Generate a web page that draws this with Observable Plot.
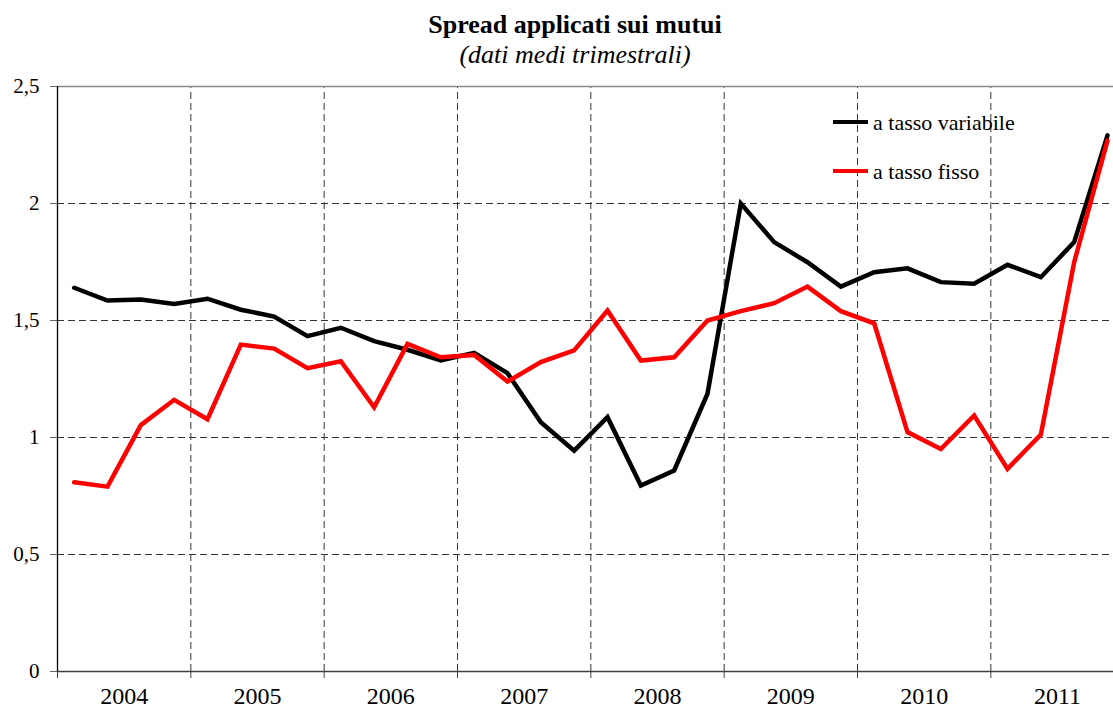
<!DOCTYPE html>
<html>
<head>
<meta charset="utf-8">
<script src="https://cdn.jsdelivr.net/npm/d3@7"></script>
<script src="https://cdn.jsdelivr.net/npm/@observablehq/plot@0.6"></script>
<style>
  body { margin: 0; background: #fff; font-family: "Liberation Serif", "Times New Roman", serif; }
  #wrap { position: relative; width: 1113px; height: 709px; overflow: hidden; }
  #head { position: relative; width: 1113px; height: 76px; }
  .t { position: absolute; left: 0; width: 1150px; text-align: center; line-height: 1; white-space: nowrap; color: #000; }
  #title { top: 12px; font-size: 26px; font-weight: bold; }
  #subtitle { top: 42px; font-size: 26px; font-style: italic; }
  .sw { position: absolute; left: 833px; width: 35px; height: 4px; }
  .lt { position: absolute; left: 873px; font-size: 22px; line-height: 1; white-space: nowrap; color: #000; }
  #chart svg { display: block; }
  #chart svg, #chart svg text { font-family: "Liberation Serif", "Times New Roman", serif !important; }
</style>
</head>
<body>
<div id="wrap">
  <div id="head">
    <div class="t" id="title">Spread applicati sui mutui</div>
    <div class="t" id="subtitle">(dati medi trimestrali)</div>
  </div>
  <div id="chart"></div>
  <div id="legend"></div>
</div>
<script>
// ---- data (quarterly averages, 2004 Q1 – 2011 Q4) ----
const years = ["2004", "2005", "2006", "2007", "2008", "2009", "2010", "2011"];
const seriesNames = ["a tasso variabile", "a tasso fisso"];
const seriesColors = ["#000000", "#ff0000"];
const variabile = [
  1.64, 1.585, 1.59, 1.571,
  1.593, 1.546, 1.517, 1.433,
  1.469, 1.412, 1.375, 1.329,
  1.362, 1.275, 1.065, 0.944,
  1.087, 0.795, 0.859, 1.187,
  2.0, 1.835, 1.749, 1.645,
  1.706, 1.723, 1.664, 1.657,
  1.738, 1.685, 1.835, 2.291
];
const fisso = [
  0.809, 0.79, 1.053, 1.161,
  1.078, 1.397, 1.38, 1.296,
  1.326, 1.129, 1.4, 1.343,
  1.353, 1.239, 1.322, 1.372,
  1.543, 1.329, 1.343, 1.5,
  1.54, 1.574, 1.645, 1.54,
  1.488, 1.023, 0.951, 1.094,
  0.866, 1.012, 1.749, 2.269
];
const yTicks = [0, 0.5, 1, 1.5, 2, 2.5];

// ---- derived tables ----
const toRows = (vals, name) => vals.map((v, i) => ({ q: i + 0.5, v, name }));
const rowsVar = toRows(variabile, seriesNames[0]);
const rowsFix = toRows(fisso, seriesNames[1]);
const boundaries = years.map((y, i) => i * 4);           // year starts (in quarters)
const innerBoundaries = boundaries.slice(1);
const centers = years.map((y, i) => i * 4 + 2);
const comma = d => String(d).replace(".", ",");

const chart = Plot.plot({
  width: 1113,
  height: 633,
  marginTop: 10,
  marginBottom: 38,
  marginLeft: 57,
  marginRight: 0,
  style: { fontFamily: "Liberation Serif, Times New Roman, serif", color: "#000", background: "#fff", overflow: "visible" },
  x: { type: "linear", domain: [0, 31.68] },
  y: { domain: [0, 2.5] },
  marks: [
    // horizontal dashed gridlines
    Plot.ruleY(yTicks.filter(d => d > 0 && d < 2.5), { stroke: "#333", strokeWidth: 1, strokeDasharray: "7,4" }),
    // vertical dashed gridlines at year boundaries
    Plot.ruleX(innerBoundaries, { y1: 0, y2: 2.5, stroke: "#333", strokeWidth: 1, strokeDasharray: "7,4" }),
    // top border
    Plot.ruleY([2.5], { stroke: "#8a8a8a", strokeWidth: 1.5 }),
    // axes lines
    Plot.ruleY([0], { stroke: "#404040", strokeWidth: 1.6 }),
    Plot.ruleX([0], { y1: 0, y2: 2.5, stroke: "#000", strokeWidth: 1.3 }),
    // y axis
    Plot.axisY(yTicks, { tickSize: 7, tickPadding: 11, tickFormat: comma, fontSize: 21, stroke: "#666", label: null }),
    // x axis: tick marks at year boundaries
    Plot.axisX(boundaries, { tickSize: 7, tickFormat: () => "", stroke: "#404040", label: null }),
    // x axis: year labels centered in each year
    Plot.axisX(centers, { tickSize: 0, tickPadding: 15, tickFormat: d => years[(d - 2) / 4], fontSize: 24, label: null }),
    // series
    Plot.line(rowsVar, { x: "q", y: "v", stroke: seriesColors[0], strokeWidth: 4.5, strokeLinejoin: "miter", strokeMiterlimit: 6 }),
    Plot.line(rowsFix, { x: "q", y: "v", stroke: seriesColors[1], strokeWidth: 4.5, strokeLinejoin: "miter", strokeMiterlimit: 6 })
  ]
});
document.getElementById("chart").appendChild(chart);

// legend overlay
const legend = document.getElementById("legend");
const legendTops = [122, 171];
seriesNames.forEach((name, i) => {
  const sw = document.createElement("div");
  sw.className = "sw";
  sw.style.top = (legendTops[i] - 2) + "px";
  sw.style.background = seriesColors[i];
  legend.appendChild(sw);
  const lt = document.createElement("div");
  lt.className = "lt";
  lt.style.top = (legendTops[i] - 10) + "px";
  lt.textContent = name;
  legend.appendChild(lt);
});
</script>
</body>
</html>
